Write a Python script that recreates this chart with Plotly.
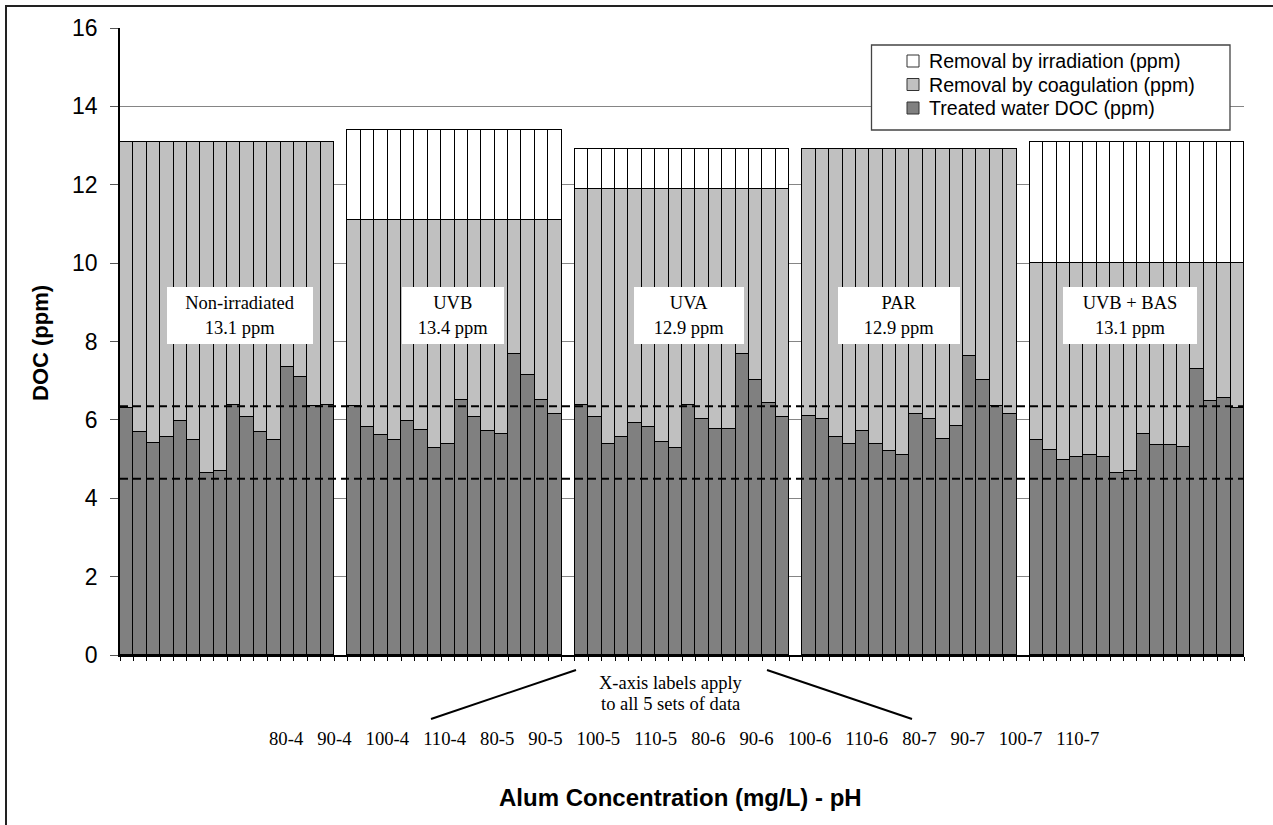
import plotly.graph_objects as go

# ---- data -------------------------------------------------------------
groups = ["Non-irradiated", "UVB", "UVA", "PAR", "UVB + BAS"]
initial_doc = [13.1, 13.4, 12.9, 12.9, 13.1]          # raw water DOC (ppm)
post_irradiation_doc = [13.1, 11.1, 11.9, 12.9, 10.0]  # DOC after irradiation (ppm)

alum_ph_labels = ["80-4", "90-4", "100-4", "110-4",
                  "80-5", "90-5", "100-5", "110-5",
                  "80-6", "90-6", "100-6", "110-6",
                  "80-7", "90-7", "100-7", "110-7"]

# treated water DOC (ppm) for each alum dose / pH, per irradiation set
treated_nonirr = [6.31, 5.70, 5.40, 5.57, 5.98, 5.49, 4.65, 4.70,
                  6.39, 6.07, 5.70, 5.49, 7.34, 7.10, 6.36, 6.39]
treated_uvb = [6.36, 5.81, 5.61, 5.49, 5.98, 5.74, 5.28, 5.39,
               6.51, 6.07, 5.72, 5.64, 7.67, 7.14, 6.51, 6.14]
treated_uva = [6.39, 6.07, 5.38, 5.57, 5.91, 5.81, 5.44, 5.27,
               6.39, 6.02, 5.77, 5.77, 7.67, 7.02, 6.42, 6.07]
treated_par = [6.10, 6.02, 5.57, 5.39, 5.72, 5.39, 5.21, 5.11,
               6.14, 6.02, 5.52, 5.85, 7.63, 7.01, 6.36, 6.14]
treated_uvb_bas = [5.48, 5.24, 4.98, 5.06, 5.10, 5.06, 4.65, 4.70,
                   5.65, 5.36, 5.36, 5.31, 7.29, 6.47, 6.56, 6.31]

reference_levels = [6.35, 4.50]  # dashed guide lines (ppm)

series_names = ["Treated water DOC (ppm)",
                "Removal by coagulation (ppm)",
                "Removal by irradiation (ppm)"]

treated_sets = [treated_nonirr, treated_uvb, treated_uva, treated_par, treated_uvb_bas]

# ---- styling ----------------------------------------------------------
SANS = "Liberation Sans, Arial, sans-serif"
SERIF = "Liberation Serif, Times New Roman, serif"
series_colors = ["#808080", "#C0C0C0", "#FFFFFF"]

W, H = 1273, 825
L, R, T, B = 120, 29, 28, 170
PW, PH = W - L - R, H - T - B


def px(xp):
    return (xp - L) / PW


def py(yp):
    return (H - B - yp) / PH


# ---- bar positions: 16 bars per set, one empty slot between sets -------
n_per = len(alum_ph_labels)
slot = n_per + 1
xs, treated, coag, irrad = [], [], [], []
for g, vals in enumerate(treated_sets):
    for i, v in enumerate(vals):
        xs.append(g * slot + i)
        treated.append(v)
        coag.append(post_irradiation_doc[g] - v)
        irrad.append(initial_doc[g] - post_irradiation_doc[g])

n_slots = len(groups) * slot - 1
outline = dict(color="#000000", width=1.5)

fig = go.Figure()
for name, vals, col in zip(series_names, [treated, coag, irrad], series_colors):
    fig.add_trace(go.Bar(x=xs, y=vals, name=name,
                         marker=dict(color=col, line=outline)))

shapes = []
annotations = []

# dashed guide lines across the plot
for lvl in reference_levels:
    shapes.append(dict(type="line", xref="paper", yref="y", x0=0, x1=1,
                       y0=lvl, y1=lvl, layer="above",
                       line=dict(color="#000000", width=2, dash="8px,5px")))

# legend frame with swatches (top row = top of the stack)
shapes.append(dict(type="rect", xref="paper", yref="paper",
                   x0=px(871.5), x1=px(1230), y0=py(130), y1=py(45),
                   fillcolor="white", layer="above",
                   line=dict(color="#444444", width=1.3)))
row_y = [61, 84.5, 108]
for k, (name, col) in enumerate(zip(series_names[::-1], series_colors[::-1])):
    yc = row_y[k]
    shapes.append(dict(type="rect", xref="paper", yref="paper",
                       x0=px(907), x1=px(919), y0=py(yc + 6), y1=py(yc - 6),
                       fillcolor=col, layer="above",
                       line=dict(color="#333333", width=1)))
    annotations.append(dict(xref="paper", yref="paper", x=px(927), y=py(yc),
                            xanchor="left", yanchor="middle", showarrow=False,
                            text=name,
                            font=dict(family=SANS, size=19.6, color="black")))

# callout lines towards the label row
shapes.append(dict(type="line", xref="paper", yref="paper",
                   x0=px(431), y0=py(719), x1=px(576), y1=py(670),
                   line=dict(color="black", width=2)))
shapes.append(dict(type="line", xref="paper", yref="paper",
                   x0=px(767), y0=py(670), x1=px(912), y1=py(719),
                   line=dict(color="black", width=2)))
# outer chart frame
shapes.append(dict(type="rect", xref="paper", yref="paper",
                   x0=px(6), x1=px(1290), y0=py(845), y1=py(6),
                   line=dict(color="#222222", width=2)))

# set labels inside white boxes
box_cx = [239.5, 453, 689, 899, 1130]
box_w = [146, 102, 110, 122, 134]
for g, name in enumerate(groups):
    annotations.append(dict(
        xref="paper", yref="paper", x=px(box_cx[g]), y=py(315.5),
        xanchor="center", yanchor="middle", showarrow=False,
        text=f"{name}<br>{initial_doc[g]:.1f} ppm",
        font=dict(family=SERIF, size=18.5, color="black"),
        bgcolor="white", borderpad=0, borderwidth=0,
        width=box_w[g], height=57, align="center"))

# note about the shared labels
for txt, yp in [("X-axis labels apply", 682.5), ("to all 5 sets of data", 703.5)]:
    annotations.append(dict(xref="paper", yref="paper", x=px(670.5), y=py(yp),
                            xanchor="center", yanchor="middle", showarrow=False,
                            text=txt, font=dict(family=SERIF, size=18.5, color="black")))

# alum dose / pH label row
sep = "\u00a0\u00a0\u00a0"
annotations.append(dict(xref="paper", yref="paper", x=px(266.5), y=py(738.5),
                        xanchor="left", yanchor="middle", showarrow=False,
                        text=sep.join(alum_ph_labels),
                        font=dict(family=SERIF, size=18.7, color="black")))

# axis titles
annotations.append(dict(xref="paper", yref="paper", x=px(680), y=py(797),
                        xanchor="center", yanchor="middle", showarrow=False,
                        text="<b>Alum Concentration (mg/L) - pH</b>",
                        font=dict(family=SANS, size=24, color="black")))
annotations.append(dict(xref="paper", yref="paper", x=px(40), y=py(343),
                        xanchor="center", yanchor="middle", showarrow=False,
                        textangle=-90, text="<b>DOC (ppm)</b>",
                        font=dict(family=SANS, size=22, color="black")))

fig.update_layout(
    width=W, height=H, autosize=False,
    margin=dict(l=L, r=R, t=T, b=B, pad=0),
    paper_bgcolor="white", plot_bgcolor="white",
    barmode="stack", bargap=0,
    font=dict(family=SANS, color="black"),
    showlegend=False,
    xaxis=dict(range=[-0.5, n_slots - 0.5], showgrid=False, zeroline=False,
               showline=True, linecolor="black", linewidth=1.5,
               ticks="outside", ticklen=4, tickcolor="black", tickwidth=1,
               tickmode="linear", tick0=-0.5, dtick=1, showticklabels=False),
    yaxis=dict(range=[0, 16], tickmode="linear", tick0=0, dtick=2,
               showgrid=True, gridcolor="#858585", gridwidth=1.3,
               zeroline=False, showline=True, linecolor="black", linewidth=1.5,
               ticks="outside", ticklen=8, tickcolor="#555555", tickwidth=1.3,
               ticklabelstandoff=8,
               tickfont=dict(family=SANS, size=23, color="black")),
    shapes=shapes,
    annotations=annotations,
)

fig.write_html("out.html")
